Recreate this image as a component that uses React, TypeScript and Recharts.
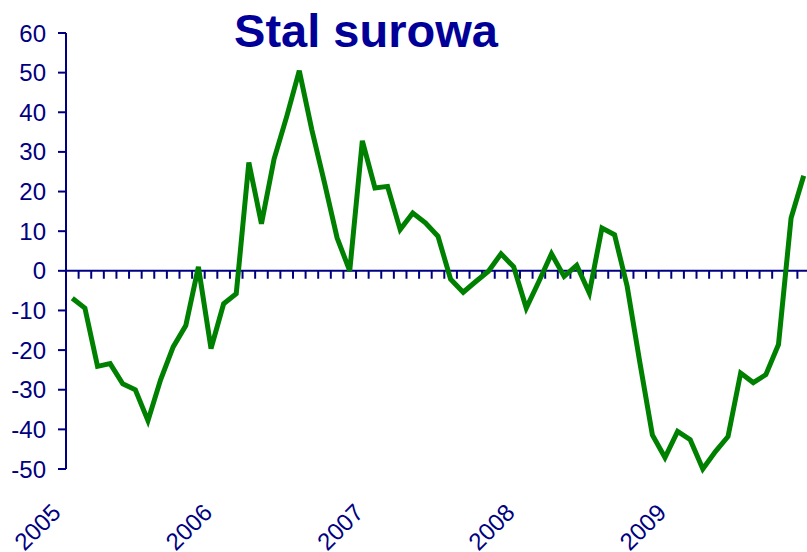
import { LineChart, Line, XAxis, YAxis, ReferenceLine } from "recharts";

// monthly change, Jan 2005 - Nov 2009
const years = ["2005", "2006", "2007", "2008", "2009"];
const steelValues = [
  -6.9, -9.4, -24.1, -23.4, -28.5, -30.0, -37.8, -27.5, -19.2, -13.8, 1.0, -19.6,
  -8.3, -5.8, 27.3, 11.9, 28.2, 38.9, 50.5, 35.5, 22.2, 8.3, 0.0, 32.8,
  20.9, 21.3, 10.4, 14.6, 12.1, 8.7, -2.1, -5.4, -2.7, -0.1, 4.3, 1.0,
  -9.4, -2.7, 4.3, -1.4, 1.4, -5.6, 10.8, 9.1, -3.9, -23.0, -41.4, -47.1,
  -40.5, -42.6, -50.0, -45.6, -41.8, -25.8, -28.2, -26.2, -18.6, 13.3, 24.0,
];
const yTicks = [-50, -40, -30, -20, -10, 0, 10, 20, 30, 40, 50, 60];

const NAVY = "#000080";
const FONT = "'Liberation Sans', Arial, sans-serif";

const data = steelValues.map((v, i) => ({ t: i + 0.5, value: v }));
const monthCount = steelValues.length;
const boundaries = Array.from({ length: monthCount + 1 }, (_, k) => k);
const yearTicks = years.map((_, i) => i * 12 + 0.5);

function YearTick(props: any) {
  const { x, y, payload } = props;
  const label = years[Math.round((payload.value - 0.5) / 12)];
  const ax = x - 10;
  const ay = y + 45;
  return (
    <text
      x={ax}
      y={ay}
      transform={`rotate(-45, ${ax}, ${ay})`}
      textAnchor="end"
      fill={NAVY}
      fontSize={24}
      fontFamily={FONT}
    >
      {label}
    </text>
  );
}

export default function App() {
  return (
    <div style={{ position: "absolute", left: 0, top: 0, width: 807, height: 552, overflow: "hidden", background: "#fff" }}>
      <LineChart width={810} height={552} data={data} margin={{ top: 33, right: 0, bottom: 0, left: 0 }}>
        <XAxis
          dataKey="t"
          type="number"
          domain={[0, monthCount]}
          ticks={yearTicks}
          axisLine={false}
          tickLine={false}
          tickSize={0}
          tickMargin={0}
          height={83}
          tick={<YearTick />}
          interval={0}
        />
        <YAxis
          domain={[-50, 60]}
          ticks={yTicks}
          width={66}
          axisLine={{ stroke: NAVY, strokeWidth: 2 }}
          tickLine={{ stroke: NAVY, strokeWidth: 2 }}
          tickSize={8}
          tickMargin={12}
          tick={{ fill: NAVY, fontSize: 24, fontFamily: FONT }}
          interval={0}
        />
        <ReferenceLine y={0} stroke={NAVY} strokeWidth={2} />
        {boundaries.map((k) => (
          <ReferenceLine
            key={k}
            segment={[{ x: k, y: 0 }, { x: k, y: -2 }]}
            stroke={NAVY}
            strokeWidth={2}
          />
        ))}
        <Line
          type="linear"
          dataKey="value"
          stroke="#008000"
          strokeWidth={5}
          dot={false}
          isAnimationActive={false}
        />
      </LineChart>
      <svg width={807} height={60} style={{ position: "absolute", left: 0, top: 0 }}>
        <text x={366} y={47} textAnchor="middle" fill="#000099" fontSize={47} fontWeight="bold" fontFamily={FONT}>
          Stal surowa
        </text>
      </svg>
    </div>
  );
}
